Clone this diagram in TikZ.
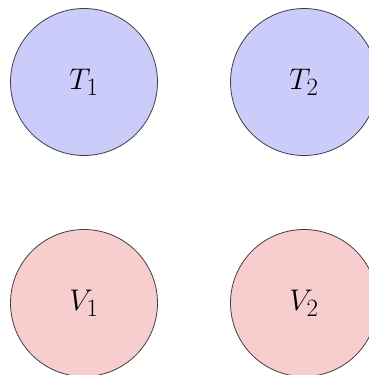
\documentclass[tikz,border=0pt]{standalone}
\usepackage{graphicx}
\definecolor{tfill}{RGB}{204,204,250}
\definecolor{vfill}{RGB}{247,205,206}
\tikzset{
  state/.style={circle, draw=black!75, line width=0.8pt, minimum size=147pt, inner sep=0pt,
    font=\Huge},
  tnode/.style={state, fill=tfill},
  vnode/.style={state, fill=vfill}
}
\newcommand{\lbl}[1]{\scalebox{1.2}{$#1$}}
\begin{document}
\begin{tikzpicture}[x=1pt,y=-1pt]
\useasboundingbox (0,0) rectangle (369,375);
\node[tnode] (T1) at (84,82) {\lbl{T_1}};
\node[tnode] (T2) at (304,82) {\lbl{T_2}};
\node[vnode] (V1) at (84,303) {\lbl{V_1}};
\node[vnode] (V2) at (304,303) {\lbl{V_2}};
\end{tikzpicture}
\end{document}
